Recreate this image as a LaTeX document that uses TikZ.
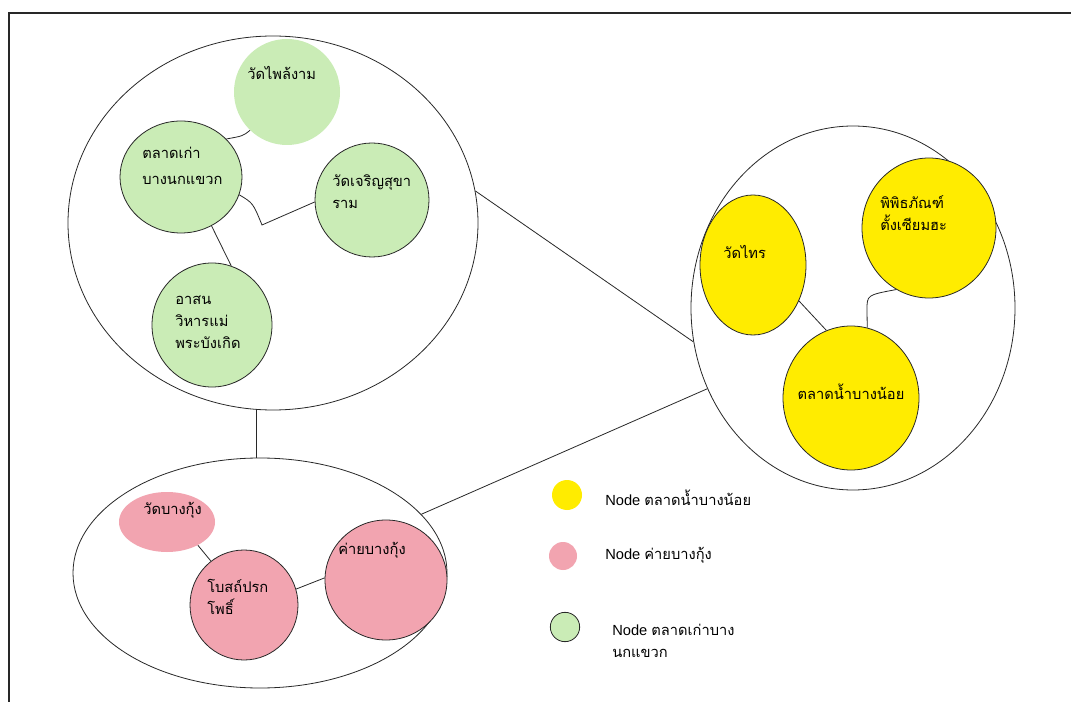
\documentclass[tikz,border=0pt]{standalone}
\usepackage{fontspec}
\setmainfont{Liberation Sans}
\newfontfamily\thai[Script=Thai]{Loma}
\usetikzlibrary{shapes.geometric}
\definecolor{gfill}{RGB}{202,236,182}
\definecolor{yfill}{RGB}{255,236,0}
\definecolor{pfill}{RGB}{242,164,176}
\definecolor{edge}{RGB}{40,40,40}
\begin{document}
\begin{tikzpicture}[x=0.75pt,y=-0.75pt,
  ell/.style 2 args={ellipse, inner sep=0pt, minimum width=#1*1.5pt, minimum height=#2*1.5pt},
  cluster/.style={draw=edge, line width=0.6pt},
  gnode/.style={fill=gfill, draw=edge, line width=0.6pt},
  gnodeplain/.style={fill=gfill},
  ynode/.style={fill=yfill, draw=edge, line width=0.6pt},
  pnode/.style={fill=pfill, draw=edge, line width=0.6pt},
  pnodeplain/.style={fill=pfill},
  link/.style={draw=edge, line width=0.6pt},
  lbl/.style={inner sep=0pt, anchor=west, align=left, font=\thai\fontsize{11}{16.5}\selectfont},
  leg/.style={inner sep=0pt, anchor=west, align=left, font=\fontsize{11}{16.5}\selectfont},
  frame/.style={draw=edge, line width=1.6pt}
]
\useasboundingbox (0,0) rectangle (1071,702);
\fill[white] (0,0) rectangle (1071,702);
\draw[frame] (9,710) -- (9,13) -- (1080,13);

% clusters
\node[cluster, ell={205}{187}] (A) at (273,223) {};
\node[cluster, ell={162}{182}] (B) at (853,308) {};
\node[cluster, ell={187}{115}] (C) at (260,573) {};

% green nodes
\node[gnodeplain, ell={53}{53}] (G1) at (287,92) {};
\node[gnode, ell={61}{56}] (G2) at (181,177) {};
\node[gnode, ell={57}{57}] (G3) at (372,200) {};
\node[gnode, ell={60}{62}] (G4) at (212,325) {};

% yellow nodes
\node[ynode, ell={53}{70}] (Y1) at (753,265) {};
\node[ynode, ell={67}{70}] (Y2) at (929,228) {};
\node[ynode, ell={68}{72}] (Y3) at (851,398) {};

% pink nodes
\node[pnodeplain, ell={48}{30}] (P1) at (167,522) {};
\node[pnode, ell={54}{55}] (P2) at (244,605) {};
\node[pnode, ell={61}{60}] (P3) at (386,580) {};

% labels
\node[lbl] (tG1) at (247,73) {วัดไพล้งาม};
\node[lbl, font=\thai\fontsize{11}{20}\selectfont] (tG2) at (142,166) {ตลาดเก่า\\บางนกแขวก};
\node[lbl] (tG3) at (332,192) {วัดเจริญสุขา\\ราม};
\node[lbl] (tG4) at (175,322) {อาสน\\วิหารแม่\\พระบังเกิด};
\node[lbl] (tY1) at (723,252) {วัดไทร};
\node[lbl] (tY2) at (880,213) {พิพิธภัณฑ์\\ตั้งเซียมฮะ};
\node[lbl, anchor=center] (tY3) at (851,392) {ตลาดน้ำบางน้อย};
\node[lbl] (tP1) at (143,510) {วัดบางกุ้ง};
\node[lbl] (tP2) at (207,597) {โบสถ์ปรก\\โพธิ์};
\node[lbl] (tP3) at (338,550) {ค่ายบางกุ้ง};

% connectors inside green cluster
\draw[link] (G2.40) .. controls (243,136) .. (G1.226);
\coordinate (k1) at (262,225);
\draw[link] (G2.-17) .. controls (253,203) .. (k1) -- (G3.182);
\draw[link] (G2.-58) -- (G4.72);

% yellow cluster
\draw[link] (Y1.-38) -- (Y3.110);
\coordinate (k2) at (867,310);
\draw[link] (Y3.77) -- (k2) .. controls (867,295) .. (Y2.242);

% pink cluster
\draw[link] (P1.-37) -- (P2.127);
\draw[link] (P2.17) -- (P3.178);

% cluster links
\draw[link] (A.9) -- (B.192);
\draw[link] (C.20) -- (B.209);
\draw[link] (A.-95) -- (A.-95 |- C.north);

% legend
\node[fill=yfill, circle, inner sep=0pt, minimum size=22.5pt] (LY) at (567,495) {};
\node[fill=pfill, circle, inner sep=0pt, minimum size=21pt] (LP) at (563,556) {};
\node[gnode, circle, inner sep=0pt, minimum size=22pt] (LG) at (565,627) {};
\node[leg] (tLY) at (605,498) {Node {\thai ตลาดน้ำบางน้อย}};
\node[leg] (tLP) at (605,555) {Node {\thai ค่ายบางกุ้ง}};
\node[leg] (tLG) at (612,641) {Node {\thai ตลาดเก่าบาง}\\{\thai นกแขวก}};
\end{tikzpicture}
\end{document}
